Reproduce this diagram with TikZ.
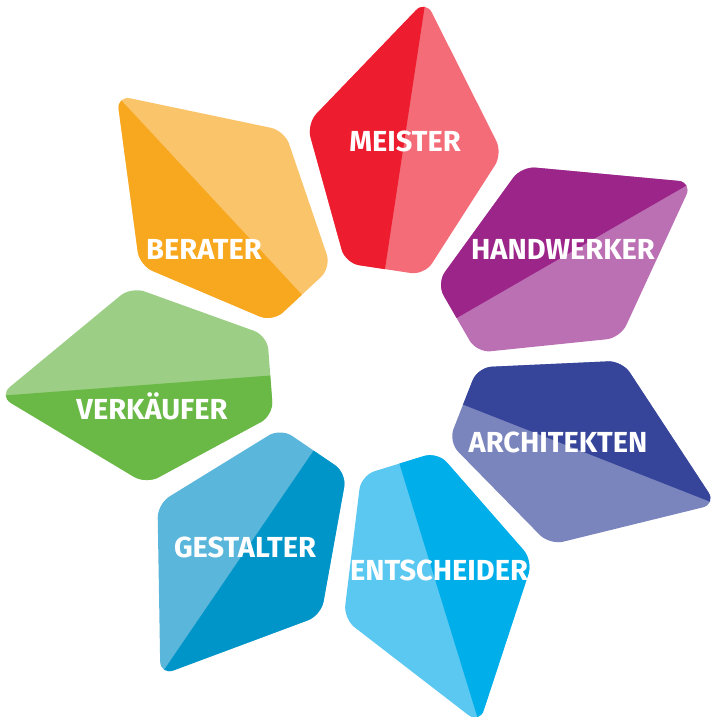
\documentclass[tikz,border=0pt]{standalone}
\usepackage{fontspec}
\setsansfont{Fira Sans}

\definecolor{meisterD}{HTML}{ED1C2E}
\definecolor{meisterL}{HTML}{F36C78}
\definecolor{handwerkerD}{HTML}{9B2589}
\definecolor{handwerkerL}{HTML}{BC70B4}
\definecolor{architektenD}{HTML}{364499}
\definecolor{architektenL}{HTML}{7A84BD}
\definecolor{entscheiderD}{HTML}{00AEEA}
\definecolor{entscheiderL}{HTML}{5BC8F1}
\definecolor{gestalterD}{HTML}{0095C8}
\definecolor{gestalterL}{HTML}{5AB6DA}
\definecolor{verkaeuferD}{HTML}{6AB845}
\definecolor{verkaeuferL}{HTML}{9CCF85}
\definecolor{beraterD}{HTML}{F8A81F}
\definecolor{beraterL}{HTML}{FAC46A}

% one petal, tip on the x axis, centre of the flower at the origin
\newcommand\petalshape{(100,-40) -- (232,-99) -- (372,0) -- (232,99) -- (100,40) -- cycle}

\begin{document}
\begin{tikzpicture}[x=1pt, y=1pt, rounded corners=14pt,
    lbl/.style={font=\sffamily\bfseries\fontsize{29}{29}\selectfont, text=white, anchor=base, inner sep=0pt}]
  \useasboundingbox[sharp corners] (-370,-349) rectangle (340,368);

  % Meister
  \begin{scope}[rotate=81.4]
    \fill[meisterL] \petalshape;
    \clip[sharp corners] (0,0) rectangle (400,120);
    \fill[meisterD] \petalshape;
  \end{scope}
  % Handwerker
  \begin{scope}[rotate=29.97]
    \fill[handwerkerL] \petalshape;
    \clip[sharp corners] (0,0) rectangle (400,120);
    \fill[handwerkerD] \petalshape;
  \end{scope}
  % Architekten
  \begin{scope}[rotate=-21.46]
    \fill[architektenL] \petalshape;
    \clip[sharp corners] (0,0) rectangle (400,120);
    \fill[architektenD] \petalshape;
  \end{scope}
  % Entscheider
  \begin{scope}[rotate=-72.9]
    \fill[entscheiderL] \petalshape;
    \clip[sharp corners] (0,0) rectangle (400,120);
    \fill[entscheiderD] \petalshape;
  \end{scope}
  % Gestalter
  \begin{scope}[rotate=-124.3]
    \fill[gestalterL] \petalshape;
    \clip[sharp corners] (0,0) rectangle (400,120);
    \fill[gestalterD] \petalshape;
  \end{scope}
  % Verkaeufer
  \begin{scope}[rotate=-175.7]
    \fill[verkaeuferL] \petalshape;
    \clip[sharp corners] (0,0) rectangle (400,120);
    \fill[verkaeuferD] \petalshape;
  \end{scope}
  % Berater
  \begin{scope}[rotate=132.9]
    \fill[beraterL] \petalshape;
    \clip[sharp corners] (0,0) rectangle (400,120);
    \fill[beraterD] \petalshape;
  \end{scope}

  \node[lbl] (meister) at (35,216) {MEISTER};
  \node[lbl] (handwerker) at (193,108) {HANDWERKER};
  \node[lbl] (architekten) at (188,-84) {ARCHITEKTEN};
  \node[lbl] (entscheider) at (69,-212) {ENTSCHEIDER};
  \node[lbl] (gestalter) at (-125,-189) {GESTALTER};
  \node[lbl] (verkaeufer) at (-218,-52) {VERKÄUFER};
  \node[lbl] (berater) at (-166,108) {BERATER};
\end{tikzpicture}
\end{document}
